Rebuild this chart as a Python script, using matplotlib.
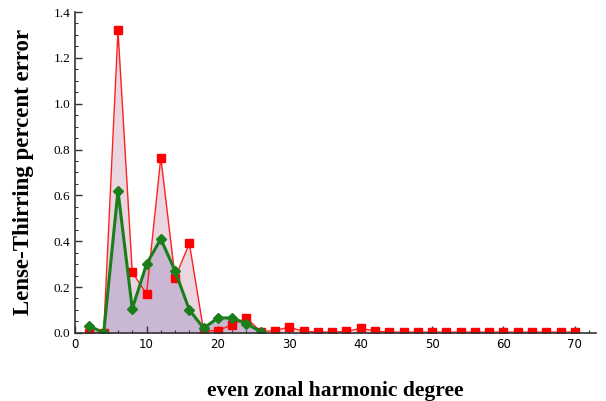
import matplotlib.pyplot as plt
from matplotlib.ticker import MultipleLocator
import numpy as np

# even zonal harmonic degrees
degree = np.arange(2, 72, 2)

# red series (squares)
red_err = [0.0, 0.0, 1.32, 0.265, 0.17, 0.765, 0.24, 0.39, 0.008, 0.01,
           0.035, 0.065, 0.005, 0.01, 0.025, 0.006, 0.004, 0.003, 0.006, 0.02,
           0.008, 0.003, 0.003, 0.003, 0.003, 0.003, 0.003, 0.003, 0.003, 0.003,
           0.003, 0.003, 0.003, 0.003, 0.003]

# green series (diamonds), only low degrees
green_deg = degree[:13]
green_err = [0.03, 0.0, 0.62, 0.105, 0.3, 0.41, 0.27, 0.1, 0.02, 0.065,
             0.065, 0.04, 0.005]

fig = plt.figure(figsize=(6.06, 4.01), dpi=100)
ax = fig.add_axes([0.124, 0.17, 0.86, 0.80])

ax.fill_between(degree, 0, red_err, color='#ead6e0', lw=0)
ax.fill_between(green_deg, 0, green_err, color='#cab7d4', lw=0)

ax.plot(degree, red_err, color='#ff2020', lw=1.0, marker='s', ms=5.5,
        mfc='#ff0000', mec='#ff0000')
ax.plot(green_deg, green_err, color='#1a7f1a', lw=2.2, marker='D', ms=5,
        mfc='#1a7f1a', mec='#1a7f1a')

ax.set_xlim(0, 73)
ax.set_ylim(0, 1.4)
ax.xaxis.set_major_locator(MultipleLocator(10))
ax.xaxis.set_minor_locator(MultipleLocator(2))
ax.yaxis.set_major_locator(MultipleLocator(0.2))
ax.yaxis.set_minor_locator(MultipleLocator(0.05))
ax.yaxis.set_major_formatter(plt.FuncFormatter(lambda v, p: f'{v:.1f}'))

for s in ['top', 'right']:
    ax.spines[s].set_visible(False)
for s in ['left', 'bottom']:
    ax.spines[s].set_color('#333333')
    ax.spines[s].set_linewidth(1.2)

ax.tick_params(which='both', direction='in', color='#333333')
ax.tick_params(which='major', length=5, width=1.0)
ax.tick_params(which='minor', length=2.5, width=0.8)

for lbl in ax.get_yticklabels():
    lbl.set_family('Liberation Serif')
    lbl.set_fontsize(9.5)
for lbl in ax.get_xticklabels():
    lbl.set_family('DejaVu Sans')
    lbl.set_fontsize(8.5)

ax.set_ylabel('Lense-Thirring percent error', family='Liberation Serif',
              fontweight='bold', fontsize=16.5, labelpad=14)
ax.set_xlabel('even zonal harmonic degree', family='Liberation Serif',
              fontweight='bold', fontsize=15.5, labelpad=22)

fig.savefig('out.png', dpi=100)
